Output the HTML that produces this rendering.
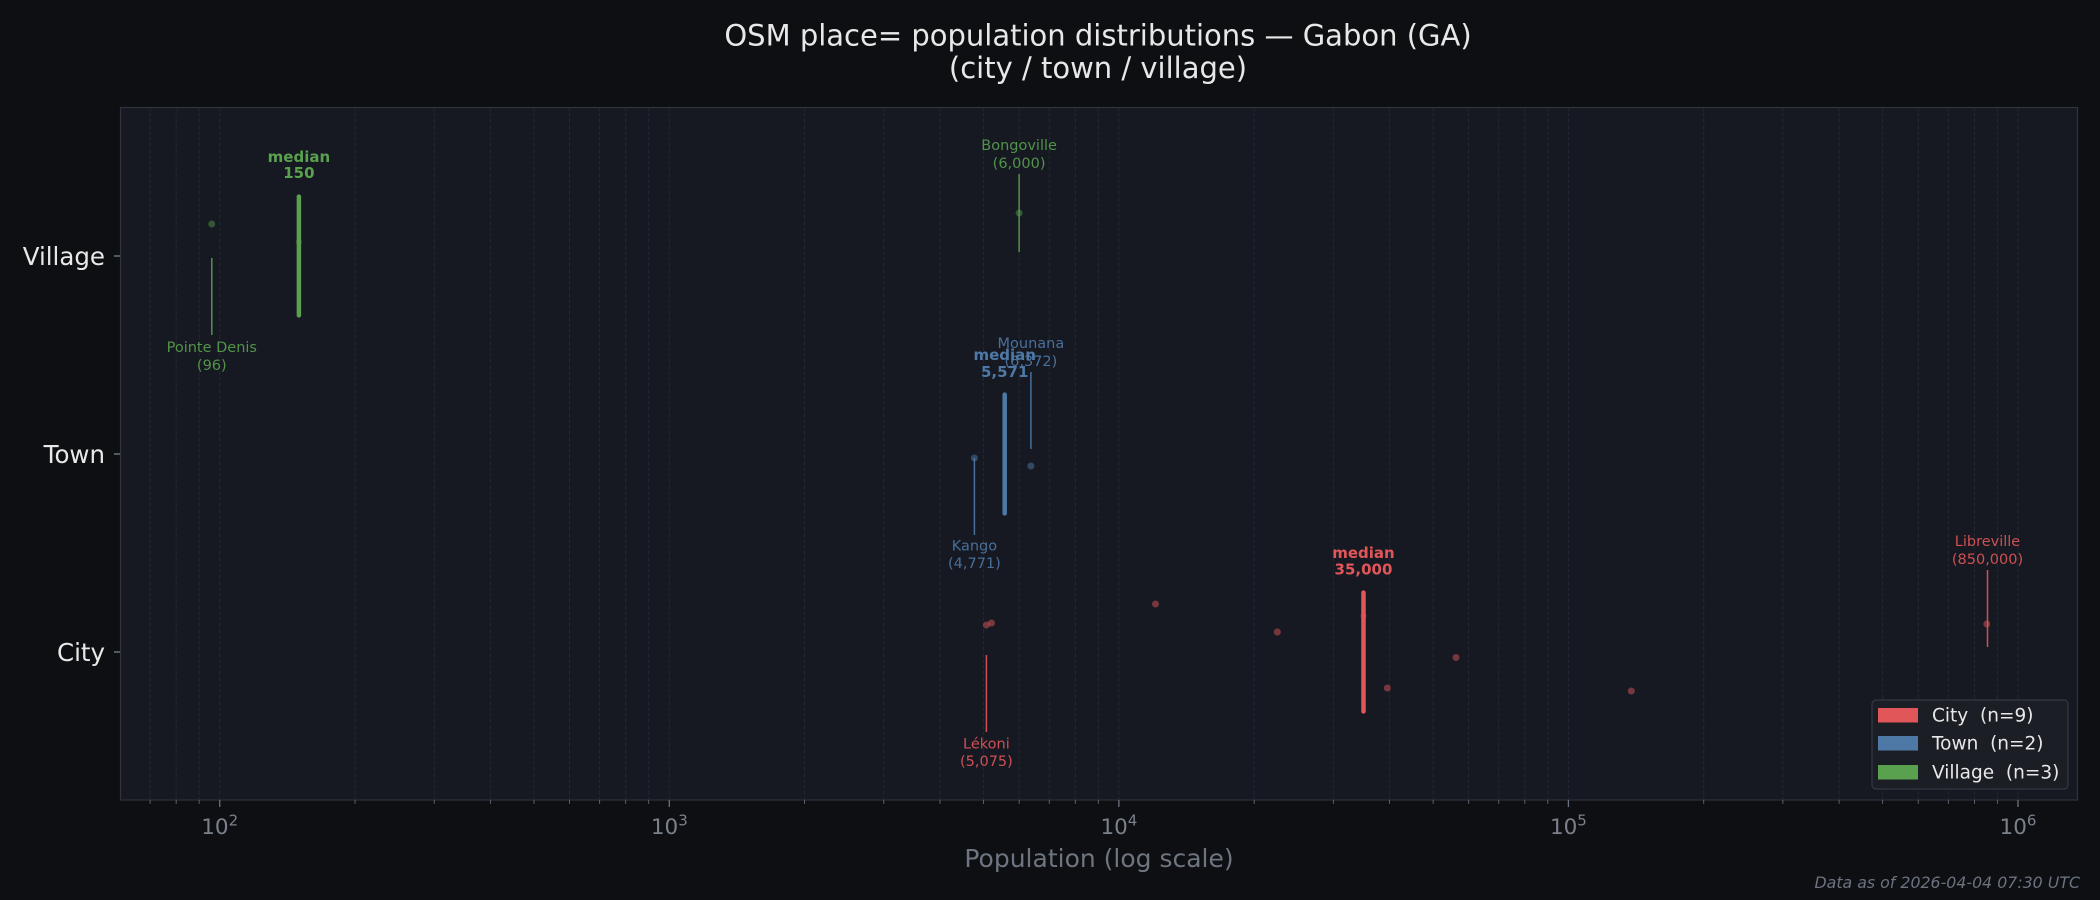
<!DOCTYPE html>
<html>
<head>
<meta charset="utf-8">
<style>
  html, body { margin:0; padding:0; background:#0e0f12; }
  svg { display:block; }
  text { font-family: "DejaVu Sans", "Liberation Sans", sans-serif; }
</style>
</head>
<body>
<svg width="2100" height="900" viewBox="0 0 2100 900" xmlns="http://www.w3.org/2000/svg">
  <!-- figure background -->
  <rect x="0" y="0" width="2100" height="900" fill="#0e0f12"/>

  <!-- title -->
  <text x="1098" y="45.5" font-size="29" fill="#e8e8e8" text-anchor="middle">OSM place= population distributions — Gabon (GA)</text>
  <text x="1098" y="78" font-size="29" fill="#e8e8e8" text-anchor="middle">(city / town / village)</text>

  <!-- axes background -->
  <rect x="120" y="107" width="1958" height="693" fill="#161921"/>

  <!-- vertical dashed grid -->
  <g stroke="#252932" stroke-width="0.9" stroke-dasharray="4 2">
    <line x1="150.10" y1="107" x2="150.10" y2="800"/>
    <line x1="176.16" y1="107" x2="176.16" y2="800"/>
    <line x1="199.15" y1="107" x2="199.15" y2="800"/>
    <line x1="219.73" y1="107" x2="219.73" y2="800"/>
    <line x1="355.06" y1="107" x2="355.06" y2="800"/>
    <line x1="434.22" y1="107" x2="434.22" y2="800"/>
    <line x1="490.39" y1="107" x2="490.39" y2="800"/>
    <line x1="533.96" y1="107" x2="533.96" y2="800"/>
    <line x1="569.56" y1="107" x2="569.56" y2="800"/>
    <line x1="599.66" y1="107" x2="599.66" y2="800"/>
    <line x1="625.72" y1="107" x2="625.72" y2="800"/>
    <line x1="648.71" y1="107" x2="648.71" y2="800"/>
    <line x1="669.29" y1="107" x2="669.29" y2="800"/>
    <line x1="804.62" y1="107" x2="804.62" y2="800"/>
    <line x1="883.78" y1="107" x2="883.78" y2="800"/>
    <line x1="939.95" y1="107" x2="939.95" y2="800"/>
    <line x1="983.52" y1="107" x2="983.52" y2="800"/>
    <line x1="1019.12" y1="107" x2="1019.12" y2="800"/>
    <line x1="1049.22" y1="107" x2="1049.22" y2="800"/>
    <line x1="1075.28" y1="107" x2="1075.28" y2="800"/>
    <line x1="1098.27" y1="107" x2="1098.27" y2="800"/>
    <line x1="1118.85" y1="107" x2="1118.85" y2="800"/>
    <line x1="1254.18" y1="107" x2="1254.18" y2="800"/>
    <line x1="1333.34" y1="107" x2="1333.34" y2="800"/>
    <line x1="1389.51" y1="107" x2="1389.51" y2="800"/>
    <line x1="1433.08" y1="107" x2="1433.08" y2="800"/>
    <line x1="1468.68" y1="107" x2="1468.68" y2="800"/>
    <line x1="1498.78" y1="107" x2="1498.78" y2="800"/>
    <line x1="1524.84" y1="107" x2="1524.84" y2="800"/>
    <line x1="1547.83" y1="107" x2="1547.83" y2="800"/>
    <line x1="1568.41" y1="107" x2="1568.41" y2="800"/>
    <line x1="1703.74" y1="107" x2="1703.74" y2="800"/>
    <line x1="1782.90" y1="107" x2="1782.90" y2="800"/>
    <line x1="1839.07" y1="107" x2="1839.07" y2="800"/>
    <line x1="1882.64" y1="107" x2="1882.64" y2="800"/>
    <line x1="1918.24" y1="107" x2="1918.24" y2="800"/>
    <line x1="1948.34" y1="107" x2="1948.34" y2="800"/>
    <line x1="1974.40" y1="107" x2="1974.40" y2="800"/>
    <line x1="1997.39" y1="107" x2="1997.39" y2="800"/>
    <line x1="2017.97" y1="107" x2="2017.97" y2="800"/>
  </g>

  <!-- ===== Village (y=256) ===== -->
  <g fill="#59a14f" fill-opacity="0.45">
    <circle cx="211.8" cy="224" r="3.5"/>
    <circle cx="1019.1" cy="213" r="3.5"/>
  </g>
  <circle cx="298.9" cy="242" r="3.2" fill="#59a14f" fill-opacity="0.3"/>
  <line x1="298.9" y1="196.6" x2="298.9" y2="315.4" stroke="#59a14f" stroke-width="4.5" stroke-linecap="round"/>
  <text x="298.9" y="162" font-size="15" font-weight="bold" fill="#59a14f" text-anchor="middle">median</text>
  <text x="298.9" y="178" font-size="15" font-weight="bold" fill="#59a14f" text-anchor="middle">150</text>
  <!-- Pointe Denis -->
  <line x1="211.8" y1="258" x2="211.8" y2="335" stroke="#59a14f" stroke-width="1.5" stroke-opacity="0.9"/>
  <text x="211.8" y="352" font-size="14.5" fill="#59a14f" fill-opacity="0.9" text-anchor="middle">Pointe Denis</text>
  <text x="211.8" y="370" font-size="14.5" fill="#59a14f" fill-opacity="0.9" text-anchor="middle">(96)</text>
  <!-- Bongoville -->
  <line x1="1019.1" y1="174" x2="1019.1" y2="252" stroke="#59a14f" stroke-width="1.5" stroke-opacity="0.9"/>
  <text x="1019.1" y="150" font-size="14.5" fill="#59a14f" fill-opacity="0.9" text-anchor="middle">Bongoville</text>
  <text x="1019.1" y="168" font-size="14.5" fill="#59a14f" fill-opacity="0.9" text-anchor="middle">(6,000)</text>

  <!-- ===== Town (y=454) ===== -->
  <g fill="#4e79a7" fill-opacity="0.5">
    <circle cx="974.4" cy="458" r="3.5"/>
    <circle cx="1030.9" cy="466" r="3.5"/>
  </g>
  <line x1="1004.7" y1="394.6" x2="1004.7" y2="513.4" stroke="#4e79a7" stroke-width="4.5" stroke-linecap="round"/>
  <!-- Kango -->
  <line x1="974.4" y1="458" x2="974.4" y2="535" stroke="#4e79a7" stroke-width="1.5" stroke-opacity="0.9"/>
  <text x="974.4" y="550.5" font-size="14.5" fill="#4e79a7" fill-opacity="0.9" text-anchor="middle">Kango</text>
  <text x="974.4" y="568" font-size="14.5" fill="#4e79a7" fill-opacity="0.9" text-anchor="middle">(4,771)</text>
  <!-- Mounana -->
  <line x1="1030.9" y1="372" x2="1030.9" y2="449" stroke="#4e79a7" stroke-width="1.5" stroke-opacity="0.9"/>
  <text x="1030.9" y="348" font-size="14.5" fill="#4e79a7" fill-opacity="0.9" text-anchor="middle">Mounana</text>
  <text x="1030.9" y="366" font-size="14.5" fill="#4e79a7" fill-opacity="0.9" text-anchor="middle">(6,372)</text>
  <text x="1004.7" y="360" font-size="15" font-weight="bold" fill="#4e79a7" text-anchor="middle">median</text>
  <text x="1004.7" y="377" font-size="15" font-weight="bold" fill="#4e79a7" text-anchor="middle">5,571</text>

  <!-- ===== City (y=652) ===== -->
  <g fill="#e15759" fill-opacity="0.48">
    <circle cx="986.4" cy="625" r="3.5"/>
    <circle cx="991.5" cy="623" r="3.5"/>
    <circle cx="1155.5" cy="604" r="3.5"/>
    <circle cx="1277.3" cy="632" r="3.5"/>
    <circle cx="1387.3" cy="688" r="3.5"/>
    <circle cx="1456" cy="657.5" r="3.5"/>
    <circle cx="1631.3" cy="691" r="3.5"/>
    <circle cx="1986.8" cy="624" r="3.5"/>
  </g>
  <circle cx="1363.5" cy="616" r="3.2" fill="#e15759" fill-opacity="0.3"/>
  <line x1="1363.5" y1="592.6" x2="1363.5" y2="711.4" stroke="#e15759" stroke-width="4.5" stroke-linecap="round"/>
  <text x="1363.5" y="558" font-size="15" font-weight="bold" fill="#e15759" text-anchor="middle">median</text>
  <text x="1363.5" y="574.5" font-size="15" font-weight="bold" fill="#e15759" text-anchor="middle">35,000</text>
  <!-- Lékoni -->
  <line x1="986.4" y1="655" x2="986.4" y2="732" stroke="#e15759" stroke-width="1.5" stroke-opacity="0.9"/>
  <text x="986.4" y="748.5" font-size="14.5" fill="#e15759" fill-opacity="0.9" text-anchor="middle">Lékoni</text>
  <text x="986.4" y="766" font-size="14.5" fill="#e15759" fill-opacity="0.9" text-anchor="middle">(5,075)</text>
  <!-- Libreville -->
  <line x1="1987.5" y1="570" x2="1987.5" y2="647" stroke="#e15759" stroke-width="1.5" stroke-opacity="0.9"/>
  <text x="1987.5" y="546" font-size="14.5" fill="#e15759" fill-opacity="0.9" text-anchor="middle">Libreville</text>
  <text x="1987.5" y="564" font-size="14.5" fill="#e15759" fill-opacity="0.9" text-anchor="middle">(850,000)</text>

  <!-- spines -->
  <rect x="120.5" y="107.5" width="1957" height="692.5" fill="none" stroke="#2f333c" stroke-width="1.2"/>

  <!-- x ticks -->
  <g stroke="#6b7280" stroke-width="0.8">
    <line x1="150.10" y1="800" x2="150.10" y2="804"/>
    <line x1="176.16" y1="800" x2="176.16" y2="804"/>
    <line x1="199.15" y1="800" x2="199.15" y2="804"/>
    <line x1="355.06" y1="800" x2="355.06" y2="804"/>
    <line x1="434.22" y1="800" x2="434.22" y2="804"/>
    <line x1="490.39" y1="800" x2="490.39" y2="804"/>
    <line x1="533.96" y1="800" x2="533.96" y2="804"/>
    <line x1="569.56" y1="800" x2="569.56" y2="804"/>
    <line x1="599.66" y1="800" x2="599.66" y2="804"/>
    <line x1="625.72" y1="800" x2="625.72" y2="804"/>
    <line x1="648.71" y1="800" x2="648.71" y2="804"/>
    <line x1="804.62" y1="800" x2="804.62" y2="804"/>
    <line x1="883.78" y1="800" x2="883.78" y2="804"/>
    <line x1="939.95" y1="800" x2="939.95" y2="804"/>
    <line x1="983.52" y1="800" x2="983.52" y2="804"/>
    <line x1="1019.12" y1="800" x2="1019.12" y2="804"/>
    <line x1="1049.22" y1="800" x2="1049.22" y2="804"/>
    <line x1="1075.28" y1="800" x2="1075.28" y2="804"/>
    <line x1="1098.27" y1="800" x2="1098.27" y2="804"/>
    <line x1="1254.18" y1="800" x2="1254.18" y2="804"/>
    <line x1="1333.34" y1="800" x2="1333.34" y2="804"/>
    <line x1="1389.51" y1="800" x2="1389.51" y2="804"/>
    <line x1="1433.08" y1="800" x2="1433.08" y2="804"/>
    <line x1="1468.68" y1="800" x2="1468.68" y2="804"/>
    <line x1="1498.78" y1="800" x2="1498.78" y2="804"/>
    <line x1="1524.84" y1="800" x2="1524.84" y2="804"/>
    <line x1="1547.83" y1="800" x2="1547.83" y2="804"/>
    <line x1="1703.74" y1="800" x2="1703.74" y2="804"/>
    <line x1="1782.90" y1="800" x2="1782.90" y2="804"/>
    <line x1="1839.07" y1="800" x2="1839.07" y2="804"/>
    <line x1="1882.64" y1="800" x2="1882.64" y2="804"/>
    <line x1="1918.24" y1="800" x2="1918.24" y2="804"/>
    <line x1="1948.34" y1="800" x2="1948.34" y2="804"/>
    <line x1="1974.40" y1="800" x2="1974.40" y2="804"/>
    <line x1="1997.39" y1="800" x2="1997.39" y2="804"/>
  </g>
  <g stroke="#6b7280" stroke-width="1.3">
    <line x1="219.73" y1="800" x2="219.73" y2="807"/>
    <line x1="669.29" y1="800" x2="669.29" y2="807"/>
    <line x1="1118.85" y1="800" x2="1118.85" y2="807"/>
    <line x1="1568.41" y1="800" x2="1568.41" y2="807"/>
    <line x1="2017.97" y1="800" x2="2017.97" y2="807"/>
  </g>
  <g font-size="21.5" fill="#7b818c" text-anchor="middle">
    <text x="219.7" y="834">10<tspan font-size="15" dy="-8.5">2</tspan></text>
    <text x="669.3" y="834">10<tspan font-size="15" dy="-8.5">3</tspan></text>
    <text x="1118.9" y="834">10<tspan font-size="15" dy="-8.5">4</tspan></text>
    <text x="1568.4" y="834">10<tspan font-size="15" dy="-8.5">5</tspan></text>
    <text x="2018.0" y="834">10<tspan font-size="15" dy="-8.5">6</tspan></text>
  </g>

  <!-- y ticks -->
  <g stroke="#7b818c" stroke-width="1.3">
    <line x1="114" y1="256" x2="120" y2="256"/>
    <line x1="114" y1="454" x2="120" y2="454"/>
    <line x1="114" y1="652" x2="120" y2="652"/>
  </g>
  <g font-size="24.5" fill="#e8e8e8" text-anchor="end">
    <text x="105" y="265">Village</text>
    <text x="105" y="463">Town</text>
    <text x="105" y="661">City</text>
  </g>

  <!-- x label -->
  <text x="1099" y="867" font-size="25" fill="#6e7580" text-anchor="middle">Population (log scale)</text>

  <!-- legend -->
  <rect x="1872" y="700" width="196" height="89" rx="4" ry="4" fill="#1c1f27" fill-opacity="0.95" stroke="#343944" stroke-width="1.2"/>
  <rect x="1878" y="708" width="40" height="14.5" fill="#e15759"/>
  <rect x="1878" y="736" width="40" height="14.5" fill="#4e79a7"/>
  <rect x="1878" y="765" width="40" height="14.5" fill="#59a14f"/>
  <g font-size="18.5" fill="#e8e8e8">
    <text x="1932" y="721.5" xml:space="preserve">City  (n=9)</text>
    <text x="1932" y="749.5" xml:space="preserve">Town  (n=2)</text>
    <text x="1932" y="778.5" xml:space="preserve">Village  (n=3)</text>
  </g>

  <!-- timestamp -->
  <text x="2080" y="888" font-size="15.8" font-style="italic" fill="#6b7280" text-anchor="end">Data as of 2026-04-04 07:30 UTC</text>
</svg>
</body>
</html>
